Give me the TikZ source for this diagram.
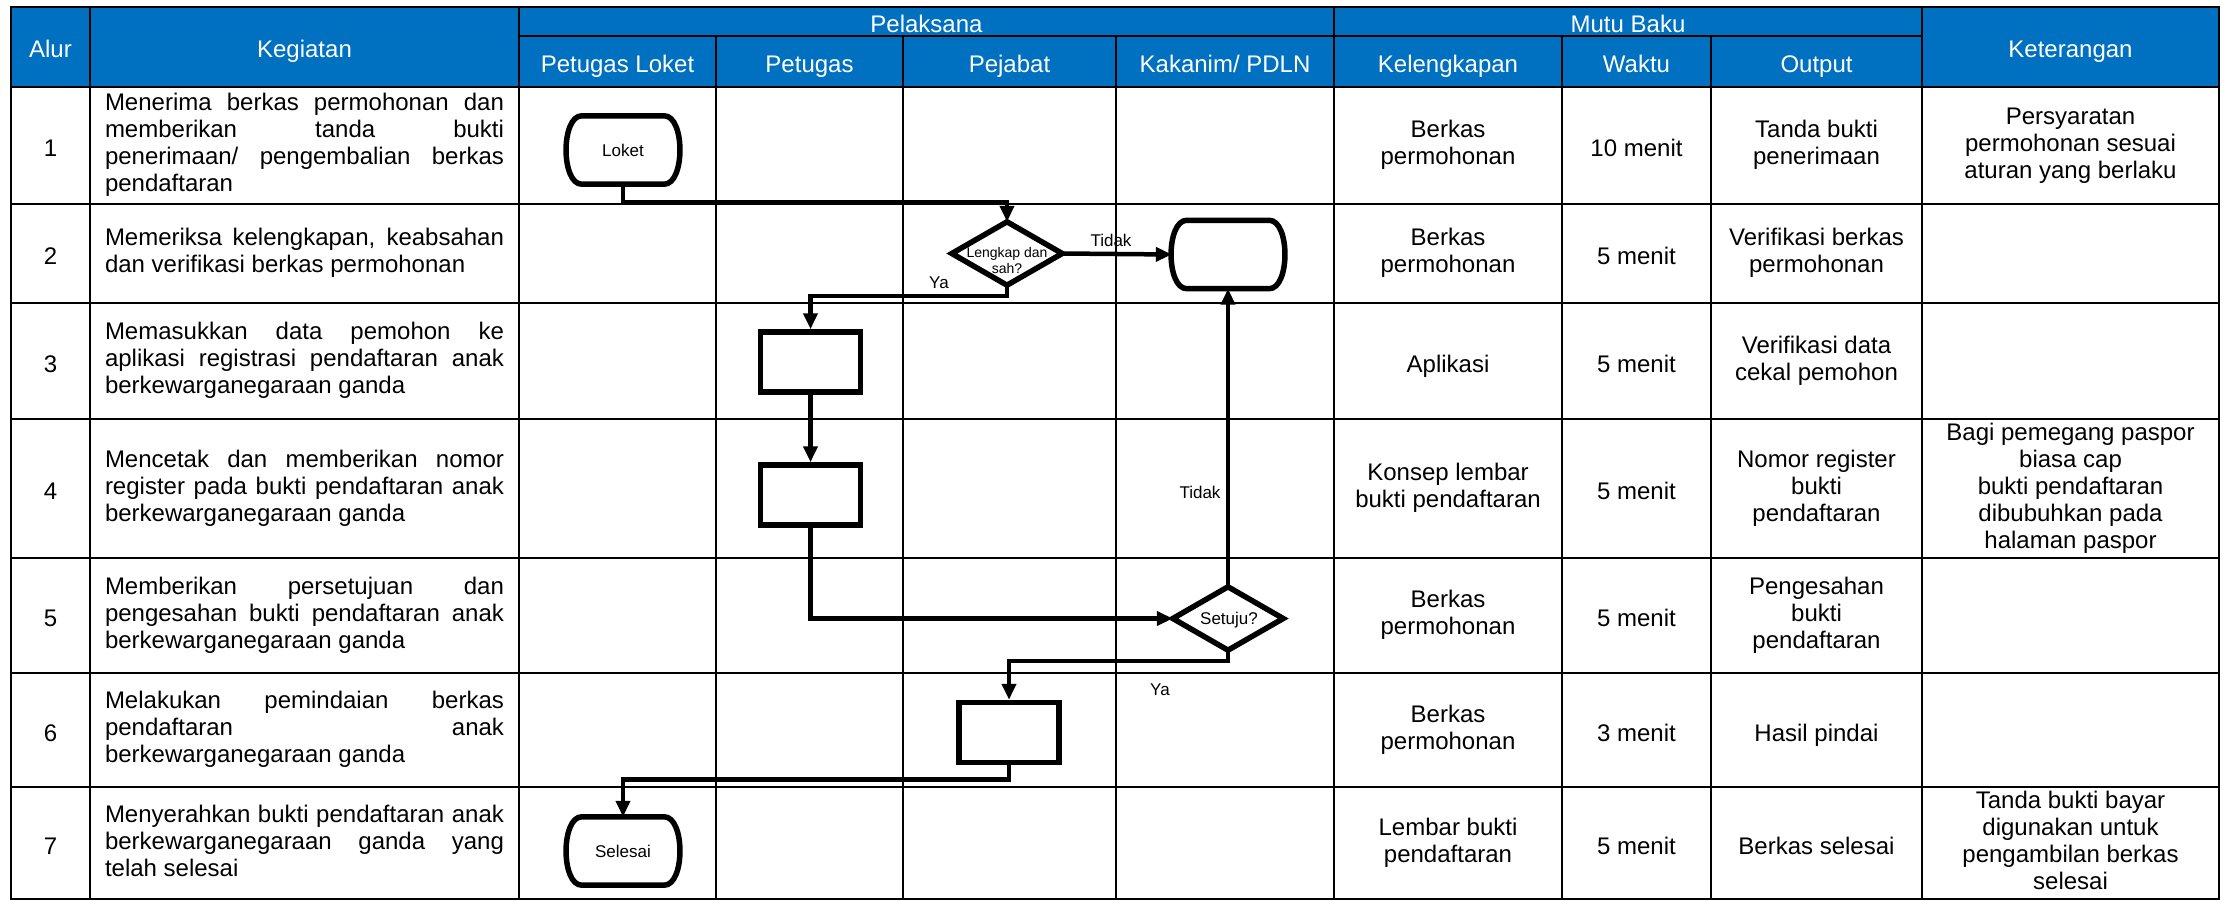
\documentclass[tikz,border=0pt]{standalone}
\usepackage{fontspec}
\setmainfont{Liberation Sans}
\usetikzlibrary{arrows.meta}
\definecolor{hblue}{RGB}{0,112,192}
\newcommand\jline[1]{\makebox[399pt][s]{#1}}
\newcommand\lline[1]{\makebox[399pt][l]{#1}}
\newcommand\cstrut{\rule[-5.5pt]{0pt}{33pt}}
\newcommand\termbox[1]{%
 \draw[shapeline] ([xshift=15pt]#1.north west) -- ([xshift=-15pt]#1.north east)
   .. controls ([xshift=6pt]#1.north east) and ([xshift=6pt]#1.south east) .. ([xshift=-15pt]#1.south east)
   -- ([xshift=15pt]#1.south west)
   .. controls ([xshift=-6pt]#1.south west) and ([xshift=-6pt]#1.north west) .. ([xshift=15pt]#1.north west) -- cycle;}
\newcommand\decbox[1]{\draw[shapeline] (#1.north) -- (#1.east) -- (#1.south) -- (#1.west) -- cycle;}
\begin{document}
\begin{tikzpicture}[x=1pt,y=-1pt,
  grid/.style={line width=2.8pt},
  hdr/.style={text=white, font=\fontsize{24}{27}\selectfont, inner sep=0, align=center,
    execute at begin node=\cstrut, execute at end node=\cstrut},
  cell/.style={align=center, font=\fontsize{24}{27}\selectfont, inner sep=0,
    execute at begin node=\cstrut, execute at end node=\cstrut},
  keg/.style={cell, align=left},
  shapeline/.style={line width=5.5pt},
  flow/.style={line width=4.5pt, -{Triangle[length=16pt,width=14pt]}},
  procnode/.style={draw, line width=5.5pt, minimum width=100pt, minimum height=60pt, inner sep=0},
  termnode/.style={minimum width=112pt, minimum height=68pt, inner sep=0, font=\fontsize{17}{19}\selectfont},
  decnode/.style={minimum width=110pt, minimum height=63pt, inner sep=0},
  dectext/.style={inner sep=0, align=center},
  lbl/.style={inner sep=0, font=\fontsize{17}{19}\selectfont}
]
\useasboundingbox (0,0) rectangle (2232,901);
% header background
\fill[hblue] (11,7) rectangle (2219,87);
% grid
\draw[grid] (11,7) rectangle (2219,899);
\draw[grid] (519,36) -- (1922,36);
\foreach \yy in {87,204,303,419,558,673,787} \draw[grid] (11,\yy) -- (2219,\yy);
\foreach \xx in {90,519,1334,1922} \draw[grid] (\xx,7) -- (\xx,899);
\foreach \xx in {716,903,1116,1562,1711} \draw[grid] (\xx,36) -- (\xx,899);
% header texts
\node[hdr] (hAlur) at (50.5,47) {Alur};
\node[hdr] (hKeg) at (304.5,47) {Kegiatan};
\node[hdr] (hPel) at (926.5,21.5) {Pelaksana};
\node[hdr] (hMutu) at (1628,21.5) {Mutu Baku};
\node[hdr] (hKet) at (2070.5,47) {Keterangan};
\node[hdr] (hLoket) at (617.5,61.5) {Petugas Loket};
\node[hdr] (hPtg) at (809.5,61.5) {Petugas};
\node[hdr] (hPej) at (1009.5,61.5) {Pejabat};
\node[hdr] (hKak) at (1225,61.5) {Kakanim/ PDLN};
\node[hdr] (hKel) at (1448,61.5) {Kelengkapan};
\node[hdr] (hWkt) at (1636.5,61.5) {Waktu};
\node[hdr] (hOut) at (1816.5,61.5) {Output};
% Alur numbers
\node[cell] (n1) at (50.5,145.5) {1};
\node[cell] (n2) at (50.5,253.5) {2};
\node[cell] (n3) at (50.5,361) {3};
\node[cell] (n4) at (50.5,488.5) {4};
\node[cell] (n5) at (50.5,615.5) {5};
\node[cell] (n6) at (50.5,730) {6};
\node[cell] (n7) at (50.5,843.5) {7};
% Kegiatan
\node[keg] (k1) at (304.5,145.5) {\jline{Menerima berkas permohonan dan}\\\jline{memberikan tanda bukti}\\\jline{penerimaan/ pengembalian berkas}\\\lline{pendaftaran}};
\node[keg] (k2) at (304.5,253.5) {\jline{Memeriksa kelengkapan, keabsahan}\\\lline{dan verifikasi berkas permohonan}};
\node[keg] (k3) at (304.5,361) {\jline{Memasukkan data pemohon ke}\\\jline{aplikasi registrasi pendaftaran anak}\\\lline{berkewarganegaraan ganda}};
\node[keg] (k4) at (304.5,488.5) {\jline{Mencetak dan memberikan nomor}\\\jline{register pada bukti pendaftaran anak}\\\lline{berkewarganegaraan ganda}};
\node[keg] (k5) at (304.5,615.5) {\jline{Memberikan persetujuan dan}\\\jline{pengesahan bukti pendaftaran anak}\\\lline{berkewarganegaraan ganda}};
\node[keg] (k6) at (304.5,730) {\jline{Melakukan pemindaian berkas}\\\jline{pendaftaran anak}\\\lline{berkewarganegaraan ganda}};
\node[keg] (k7) at (304.5,843.5) {\jline{Menyerahkan bukti pendaftaran anak}\\\jline{berkewarganegaraan ganda yang}\\\lline{telah selesai}};
% Kelengkapan
\node[cell] (c1) at (1448,145.5) {Berkas\\permohonan};
\node[cell] (c2) at (1448,253.5) {Berkas\\permohonan};
\node[cell] (c3) at (1448,361) {Aplikasi};
\node[cell] (c4) at (1448,488.5) {Konsep lembar\\bukti pendaftaran};
\node[cell] (c5) at (1448,615.5) {Berkas\\permohonan};
\node[cell] (c6) at (1448,730) {Berkas\\permohonan};
\node[cell] (c7) at (1448,843.5) {Lembar bukti\\pendaftaran};
% Waktu
\node[cell] (w1) at (1636.5,145.5) {10 menit};
\node[cell] (w2) at (1636.5,253.5) {5 menit};
\node[cell] (w3) at (1636.5,361) {5 menit};
\node[cell] (w4) at (1636.5,488.5) {5 menit};
\node[cell] (w5) at (1636.5,615.5) {5 menit};
\node[cell] (w6) at (1636.5,730) {3 menit};
\node[cell] (w7) at (1636.5,843.5) {5 menit};
% Output
\node[cell] (o1) at (1816.5,145.5) {Tanda bukti\\penerimaan};
\node[cell] (o2) at (1816.5,253.5) {Verifikasi berkas\\permohonan};
\node[cell] (o3) at (1816.5,361) {Verifikasi data\\cekal pemohon};
\node[cell] (o4) at (1816.5,488.5) {Nomor register\\bukti\\pendaftaran};
\node[cell] (o5) at (1816.5,615.5) {Pengesahan\\bukti\\pendaftaran};
\node[cell] (o6) at (1816.5,730) {Hasil pindai};
\node[cell] (o7) at (1816.5,843.5) {Berkas selesai};
% Keterangan
\node[cell] (e1) at (2070.5,145.5) {Persyaratan\\permohonan sesuai\\aturan yang berlaku};
\node[cell] (e4) at (2070.5,488.5) {Bagi pemegang paspor\\biasa cap\\bukti pendaftaran\\dibubuhkan pada\\halaman paspor};
\node[cell] (e7) at (2070.5,843.5) {Tanda bukti bayar\\digunakan untuk\\pengambilan berkas\\selesai};
% flow shapes
\node[termnode] (loket) at (623,150) {Loket};
\termbox{loket}
\node[decnode] (d1) at (1007,253.5) {};
\decbox{d1}
\node[dectext, font=\fontsize{14}{16}\selectfont] (d1text) at (1007,260) {Lengkap dan\\sah?};
\node[termnode] (t2) at (1228,254.5) {};
\termbox{t2}
\node[procnode] (p3) at (810.5,362) {};
\node[procnode] (p4) at (810.5,495) {};
\node[decnode] (d2) at (1228,618.5) {};
\decbox{d2}
\node[dectext, font=\fontsize{17}{19}\selectfont] (d2text) at (1229,620) {Setuju?};
\node[procnode] (p6) at (1009,732.5) {};
\node[termnode] (sel) at (623,851) {Selesai};
\termbox{sel}
% connectors
\draw[flow] (loket.south) -- ++(0,18) -| (d1.north);
\draw[flow] (d1.east) -- (t2.west);
\draw[flow] (d1.south) -- ++(0,11) -| (p3.north);
\draw[flow] (p3.south) -- (p4.north);
\draw[flow] (p4.south) |- (d2.west);
\draw[flow] (d2.north) -- (t2.south);
\draw[flow] (d2.south) -- ++(0,11) -| (p6.north);
\draw[flow] (p6.south) -- ++(0,14) -| (sel.north);
% labels
\node[lbl] (lt1) at (1111,240) {Tidak};
\node[lbl] (ly1) at (939,283) {Ya};
\node[lbl] (lt2) at (1200,492) {Tidak};
\node[lbl] (ly2) at (1160,690) {Ya};
\end{tikzpicture}
\end{document}
